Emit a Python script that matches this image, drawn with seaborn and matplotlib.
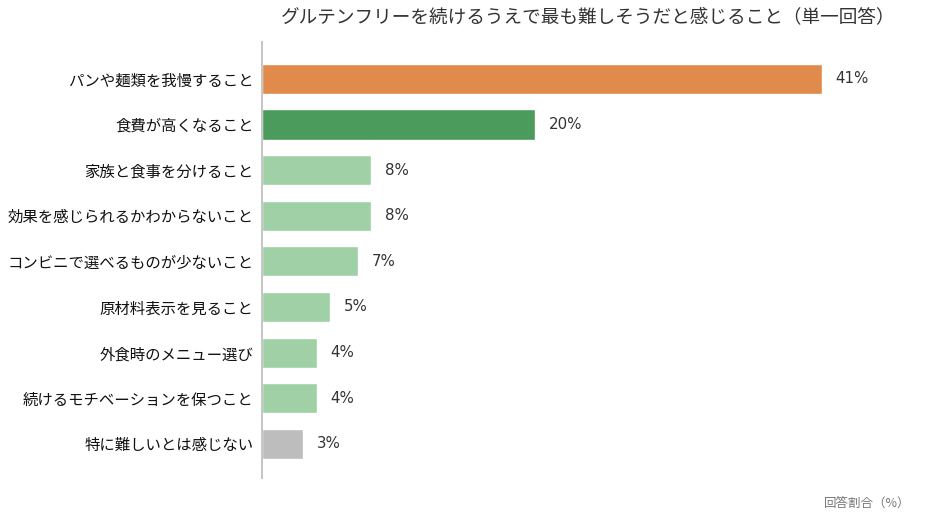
import matplotlib
matplotlib.use("Agg")
import matplotlib.pyplot as plt
import seaborn as sns
import pandas as pd

# data
items = [
    "パンや麺類を我慢すること",
    "食費が高くなること",
    "家族と食事を分けること",
    "効果を感じられるかわからないこと",
    "コンビニで選べるものが少ないこと",
    "原材料表示を見ること",
    "外食時のメニュー選び",
    "続けるモチベーションを保つこと",
    "特に難しいとは感じない",
]
shares = [41, 20, 8, 8, 7, 5, 4, 4, 3]
groups = ["top", "second", "rest", "rest", "rest", "rest", "rest", "rest", "none"]
group_colors = {"top": "#E08A4B", "second": "#4B9B5D", "rest": "#A0D0A5", "none": "#BDBDBD"}

title = "グルテンフリーを続けるうえで最も難しそうだと感じること（単一回答）"
unit_note = "回答割合（%）"

sns.set_theme(style="white")
plt.rcParams["font.family"] = ["Noto Sans CJK JP", "DejaVu Sans"]

df = pd.DataFrame({"item": items, "share": shares, "group": groups})

fig = plt.figure(figsize=(9.3, 5.16), dpi=100)
ax = fig.add_axes([262 / 930, 1 - 478 / 516, 1 - 262 / 930, 436 / 516])

sns.barplot(data=df, x="share", y="item", hue="group", palette=group_colors,
            dodge=False, legend=False, width=0.66, ax=ax, saturation=1)

for i, v in enumerate(shares):
    ax.text(v + 1.0, i, f"{v}%", va="center", ha="left", fontsize=10.8, color="#333333",
            family=["DejaVu Sans"])

ax.set_xlim(0, 48.9)
ax.set_ylim(len(items) - 1 + 0.75, -0.81)
ax.set_xlabel("")
ax.set_ylabel("")
ax.set_xticks([])
ax.tick_params(axis="y", length=0, pad=6, labelsize=11.1, labelcolor="#111111")
for s in ["top", "right", "bottom"]:
    ax.spines[s].set_visible(False)
ax.spines["left"].set_color("#BBBBBB")
ax.spines["left"].set_linewidth(1.2)

fig.text(588 / 930, 1 - 17 / 516, title, ha="center", va="center", fontsize=13.4,
         color="#333333")
fig.text(910 / 930, 1 - 503 / 516, unit_note, ha="right", va="center", fontsize=9, color="#777777")

fig.savefig("out.png", dpi=100)
